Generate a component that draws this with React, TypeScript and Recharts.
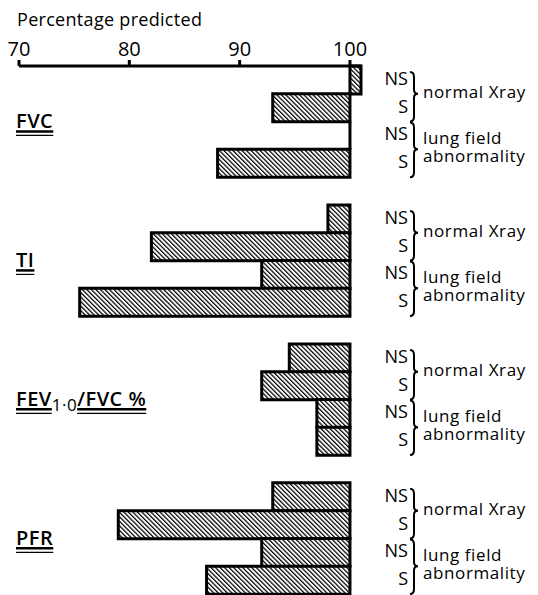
import { useLayoutEffect, useRef, useState } from 'react';
import { BarChart, Bar, XAxis, YAxis, ReferenceLine } from 'recharts';

const FONT = '"Open Sans", sans-serif';

const groups = ['FVC', 'TI', 'FEV1·0/FVC %', 'PFR'];
const smoking = ['NS', 'S', 'NS', 'S'];
const xrayGroups = [['normal Xray'], ['lung field', 'abnormality']];
const xTicks = [70, 80, 90, 100];

// percentage predicted, one value per test in the order of `groups`
const normalNS = [101, 98, 94.5, 93];
const normalS = [93, 82, 92, 79];
const lungNS = [100, 92, 97, 92];
const lungS = [88, 75.5, 97, 87];
const series = [normalNS, normalS, lungNS, lungS];

type Row = { id: string; group: string; k: number; raw: number | null; value: [number, number] };

// bars are drawn from 100 % outwards, gap rows separate the tests
const rows: Row[] = [];
groups.forEach((g, gi) => {
  series.forEach((vals, k) => {
    const v = vals[gi];
    rows.push({ id: `${gi}-${k}`, group: g, k, raw: v, value: [Math.min(v, 100), Math.max(v, 100)] });
  });
  if (gi < groups.length - 1) rows.push({ id: `gap-${gi}`, group: '', k: -1, raw: null, value: [100, 100] });
});

// rows sitting exactly on 100 have no bar, only the 100 % line
const flatRows = rows
  .map((r, i) => ({ r, next: rows[i + 1] }))
  .filter(({ r, next }) => r.raw === 100 && next);

function GroupLabel({ x, y, name }: { x: number; y: number; name: string }) {
  const m = name.match(/^(FEV)(1·0)(.*)$/);
  const parts = m ? [{ t: m[1] }, { t: m[2], sub: true }, { t: m[3] }] : [{ t: name }];
  const refs = useRef<(SVGTSpanElement | null)[]>([]);
  const [segs, setSegs] = useState<{ x0: number; w: number }[]>([]);

  useLayoutEffect(() => {
    const out: { x0: number; w: number }[] = [];
    parts.forEach((p, i) => {
      const el = refs.current[i];
      if (!el || (p as any).sub) return;
      out.push({ x0: el.getStartPositionOfChar(0).x, w: el.getComputedTextLength() });
    });
    setSegs(out);
  }, [name, x, y]);

  return (
    <g>
      <text x={x} y={y} fontSize={20} fontWeight={600} fontFamily={FONT} fill="#000" letterSpacing={0.5}>
        {parts.map((p, i) => (
          <tspan
            key={i}
            ref={(el) => { refs.current[i] = el; }}
            fontSize={(p as any).sub ? 17 : 20}
            fontWeight={(p as any).sub ? 400 : 600}
            dy={(p as any).sub ? 5 : i > 0 ? -5 : 0}
          >
            {p.t}
          </tspan>
        ))}
      </text>
      {segs.map((s, i) => (
        <g key={i}>
          <line x1={s.x0} x2={s.x0 + s.w} y1={y + 3} y2={y + 3} stroke="#000" strokeWidth={2.5} />
          <line x1={s.x0} x2={s.x0 + s.w} y1={y + 7} y2={y + 7} stroke="#000" strokeWidth={1.2} />
        </g>
      ))}
    </g>
  );
}

function GroupTick(props: any) {
  const { x, y, index } = props;
  const row = rows[index];
  if (!row || row.k !== 2) return null;
  return <GroupLabel x={x - 3} y={y - 7} name={row.group} />;
}

function Brace({ x, y0, y1, ym }: { x: number; y0: number; y1: number; ym: number }) {
  const d = `M${x},${y0} Q${x + 4},${y0} ${x + 4},${y0 + 5} L${x + 4},${ym - 4} Q${x + 4},${ym} ${x + 8},${ym} Q${x + 4},${ym} ${x + 4},${ym + 4} L${x + 4},${y1 - 5} Q${x + 4},${y1} ${x},${y1}`;
  return <path d={d} fill="none" stroke="#000" strokeWidth={2} />;
}

function SideTick(props: any) {
  const { x, y, index, payload } = props;
  const row = rows[index];
  if (!row || row.k < 0) return null;
  const off = payload?.offset || 14;
  const label = smoking[row.k];
  const pair = row.k === 0 ? xrayGroups[0] : row.k === 2 ? xrayGroups[1] : null;
  const mid = y + off;
  return (
    <g fontFamily={FONT} fill="#000">
      <text x={x + 47} y={y + 5} textAnchor="end" fontSize={18}>{label}</text>
      {pair && (
        <>
          <Brace x={x + 49} y0={y - off + (row.k === 0 ? 6 : 1)} y1={y + 3 * off} ym={mid} />
          <text x={x + 62} y={pair.length === 1 ? mid + 4 : mid - 5} fontSize={17} letterSpacing={0.6}>
            {pair.map((line, i) => (
              <tspan key={i} x={x + 62} dy={i === 0 ? 0 : 18}>{line}</tspan>
            ))}
          </text>
        </>
      )}
    </g>
  );
}

export default function App() {
  return (
    <div style={{ position: 'absolute', left: 0, top: 0, width: 538, height: 595, background: '#fff' }}>
      <div style={{ position: 'absolute', left: 17, top: 8, fontFamily: FONT, fontSize: 18, lineHeight: '22px', color: '#000', letterSpacing: 0.3 }}>
        Percentage predicted
      </div>
      <BarChart
        width={538}
        height={595}
        data={rows}
        layout="vertical"
        margin={{ top: 36, right: 0, bottom: 1, left: 0 }}
        barCategoryGap={0}
        barGap={0}
      >
        <defs>
          <pattern id="hatch" patternUnits="userSpaceOnUse" width="3.2" height="3.2" patternTransform="rotate(-45)">
            <rect width="3.2" height="3.2" fill="#fff" />
            <line x1="0" y1="0" x2="0" y2="3.2" stroke="#000" strokeWidth="2.5" />
          </pattern>
        </defs>
        <XAxis
          type="number"
          orientation="top"
          domain={[70, 'dataMax']}
          ticks={xTicks}
          interval={0}
          height={30}
          tickSize={6}
          tickMargin={4}
          axisLine={{ stroke: '#000', strokeWidth: 3 }}
          tickLine={{ stroke: '#000', strokeWidth: 3 }}
          tick={{ fill: '#000', fontSize: 20, fontFamily: FONT }}
        />
        <YAxis
          yAxisId="left"
          type="category"
          dataKey="id"
          width={19}
          interval={0}
          tickSize={0}
          tickMargin={0}
          axisLine={false}
          tickLine={false}
          tick={(p: any) => <GroupTick {...p} />}
        />
        <YAxis
          yAxisId="right"
          orientation="right"
          type="category"
          dataKey="id"
          width={177}
          interval={0}
          tickSize={0}
          tickMargin={0}
          axisLine={false}
          tickLine={false}
          tick={(p: any) => <SideTick {...p} />}
        />
        <Bar
          yAxisId="left"
          dataKey="value"
          fill="url(#hatch)"
          stroke="#000"
          strokeWidth={3}
          isAnimationActive={false}
        />
        {flatRows.map(({ r, next }) => (
          <ReferenceLine
            key={r.id}
            yAxisId="left"
            segment={[{ x: 100, y: r.id }, { x: 100, y: next.id }]}
            position="start"
            stroke="#000"
            strokeWidth={3}
            ifOverflow="visible"
          />
        ))}
      </BarChart>
    </div>
  );
}
